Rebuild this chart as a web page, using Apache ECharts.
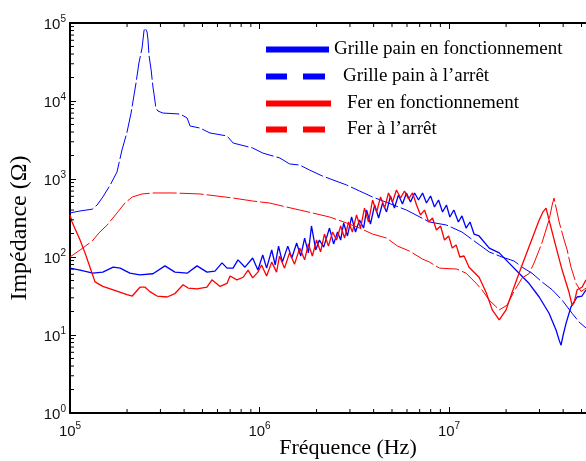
<!DOCTYPE html>
<html><head><meta charset="utf-8">
<script src="https://cdn.jsdelivr.net/npm/echarts@6/dist/echarts.min.js"></script>
<style>html,body{margin:0;padding:0;background:#fff}#c{width:586px;height:461px}</style>
</head><body><div id="c"></div>
<script>
// ---- data (frequency in Hz, impedance in ohm) ----
const seriesNames = ['Grille pain en fonctionnement', 'Grille pain à l’arrêt', 'Fer en fonctionnement', 'Fer à l’arrêt'];

const freqGpFonct = [1e5,1.13e5,1.32e5,1.49e5,1.69e5,1.84e5,2.07e5,2.34e5,2.74e5,3.17e5,3.58e5,4.15e5,4.68e5,5.28e5,5.82e5,6.34e5,6.74e5,7.25e5,7.7e5,8.38e5,9.2e5,
 9.8e5,1.04e6,1.09e6,1.16e6,1.21e6,1.26e6,1.32e6,1.41e6,1.48e6,1.57e6,1.65e6,1.73e6,1.81e6,1.88e6,1.98e6,2.07e6,2.18e6,2.34e6,2.46e6,2.58e6,2.68e6,2.78e6,2.91e6,3.06e6,3.21e6,3.37e6,3.54e6,3.67e6,3.85e6,4.05e6,4.25e6,4.46e6,4.68e6,4.91e6,5.15e6,5.41e6,5.68e6,5.96e6,6.26e6,6.58e6,6.9e6,7.25e6,7.6e6,7.99e6,8.38e6,8.8e6,9.24e6,9.69e6,
 1.01e7,1.06e7,1.12e7,1.17e7,1.23e7,1.29e7,1.355e7,1.44e7,1.63e7,1.84e7,2.07e7,2.34e7,2.64e7,2.99e7,3.37e7,3.67e7,3.81e7,3.9e7,4.0e7,4.15e7,4.4e7,4.74e7,5.03e7,5.28e7];
const zGpFonct = [72,68,62,64,74,72,62,59,61,77,64,62,77,64,66,84,72,72,92,74,97,
 68,106,72,123,79,138,86,138,97,151,103,175,113,250,123,165,134,235,147,209,165,273,186,326,209,298,235,400,265,464,316,492,378,605,424,624,478,662,507,662,538,662,492,605,437,538,378,464,
 326,400,281,336,235,281,197,186,130,113,84,62,46,30.7,19,11.6,8.6,7.4,10,14.3,23,30.7,31.6,38];

const freqGpArret = [1e5,1.13e5,1.31e5,1.39e5,1.49e5,1.63e5,1.77e5,1.88e5,2.0e5,2.1e5,2.23e5,2.31e5,2.4e5,2.46e5,2.49e5,2.55e5,2.58e5,2.61e5,2.68e5,2.74e5,2.78e5,2.84e5,2.91e5,3.09e5,3.81e5,4.15e5,4.3e5,4.85e5,5.48e5,6.74e5,7.26e5,9.2e5,
 1.04e6,1.28e6,1.44e6,1.63e6,1.84e6,2.15e6,2.88e6,3.37e6,3.95e6,5.96e6,7.89e6,9.69e6,1.17e7,1.63e7,1.9e7,2.2e7,2.43e7,2.74e7,3.09e7,3.5e7,3.95e7,4.46e7,4.85e7,5.28e7];
const zGpArret = [367,389,410,464,588,838,1230,2350,4010,7010,17000,30700,47800,81300,86300,76700,60500,38900,24900,15100,11900,8130,7440,7010,6810,6050,4780,4500,3890,3560,2890,2500,
 2150,1860,1560,1510,1300,1090,838,702,588,400,281,257,209,116,100,89,74,62,48,38,28,19,14.7,12.3];

const freqFerFonct = [1e5,1.025e5,1.13e5,1.2e5,1.275e5,1.355e5,1.49e5,1.69e5,2.0e5,2.13e5,2.34e5,2.49e5,2.64e5,2.88e5,3.25e5,3.58e5,3.95e5,4.2e5,4.68e5,5.28e5,5.61e5,6.19e5,6.74e5,6.99e5,7.6e5,8.2e5,8.7e5,9.2e5,9.8e5,
 1.025e6,1.09e6,1.16e6,1.23e6,1.275e6,1.355e6,1.44e6,1.53e6,1.63e6,1.73e6,1.81e6,1.9e6,2.0e6,2.1e6,2.2e6,2.31e6,2.43e6,2.55e6,2.68e6,2.81e6,2.95e6,3.09e6,3.25e6,3.41e6,3.58e6,3.76e6,3.95e6,4.15e6,4.35e6,4.57e6,4.79e6,5.03e6,5.28e6,5.55e6,5.82e6,6.11e6,6.42e6,
 6.74e6,7.07e6,7.42e6,7.8e6,8.18e6,8.58e6,9.02e6,9.46e6,9.95e6,1.04e7,1.09e7,1.14e7,1.2e7,1.275e7,1.44e7,1.57e7,1.69e7,1.84e7,2.0e7,2.15e7,2.34e7,2.64e7,2.99e7,3.13e7,3.25e7,3.37e7,3.67e7,3.95e7,4.3e7,4.46e7,4.57e7,4.74e7,5.03e7,5.28e7];
const zFerFonct = [346,281,165,113,74,48,42,38,33,31.6,41,41,36,31.6,30.7,34,44,40,39,41,51,42,46,57,51,55,68,54,64,
 79,57,86,64,103,72,113,81,130,92,147,103,165,116,197,138,209,165,250,175,281,209,346,235,424,281,538,378,588,424,662,507,722,570,702,554,662,
 464,346,400,281,316,222,250,165,186,130,143,100,103,74,55,35,21,15.6,21,35,62,134,298,378,424,298,134,68,35,24,26,38,41,51];

const freqFerArret = [1e5,1.13e5,1.31e5,1.42e5,1.57e5,1.77e5,1.95e5,2.13e5,2.4e5,2.74e5,3.5e5,4.85e5,5.96e5,7.25e5,9.2e5,1.13e6,1.39e6,1.63e6,1.9e6,2.34e6,2.88e6,3.37e6,3.95e6,4.68e6,5.35e6,6.19e6,7.25e6,7.89e6,8.91e6,
 1.1e7,1.23e7,1.39e7,1.49e7,1.63e7,1.84e7,2.02e7,2.2e7,2.43e7,2.64e7,2.81e7,3.09e7,3.37e7,3.5e7,3.58e7,3.81e7,4.05e7,4.2e7,4.4e7,4.68e7,4.97e7,5.28e7];
const zFerArret = [100,123,160,203,257,367,492,588,643,662,662,643,605,570,522,492,437,400,367,326,273,235,197,175,138,119,94,86,72,
 70,62,46,38,28,21,24,36,54,61,84,151,298,464,570,281,165,123,74,46,36,40];

// axis ranges and tick helpers
const xMin = 1e5, xMax = 5.28e7;
const yMin = 1, yMax = 1e5;
const xDecades = [1e5, 1e6, 1e7];
const yDecades = [1, 10, 100, 1000, 10000];
const minorMultipliers = [2, 3, 4, 5, 6, 7, 8, 9];

const zip = (a, b) => a.slice(0, Math.min(a.length, b.length)).map((v, i) => [v, b[i]]);
const xMinor = [];
xDecades.forEach(d => minorMultipliers.forEach(m => { if (m * d <= xMax) xMinor.push([m * d, 10]); }));
const yMinor = [];
yDecades.forEach(d => minorMultipliers.forEach(m => yMinor.push([1e6, m * d])));

const BLUE = '#0000ff', RED = '#ff0000';
const serif = 'Liberation Serif';
const sans = 'Liberation Sans';

const powLabel = v => {
  const e = Math.log10(v);
  const r = Math.round(e);
  if (Math.abs(e - r) > 1e-6) return '';
  return '{b|10}{s|' + r + '}';
};
const richLab = {
  b: { fontFamily: sans, fontSize: 15, color: '#111', verticalAlign: 'bottom', lineHeight: 18 },
  s: { fontFamily: sans, fontSize: 10, color: '#111', verticalAlign: 'top', lineHeight: 10 }
};
const axisLineStyle = { show: true, lineStyle: { color: '#000', width: 2 } };

const chart = echarts.init(document.getElementById('c'), null, { renderer: 'canvas' });

const mkLegend = (name, top, icon, w, padLeft) => ({
  show: true, left: 266, top: top, orient: 'horizontal', padding: 0,
  data: [{ name: name, icon: icon }],
  itemWidth: w, itemHeight: 6, selectedMode: false,
  itemStyle: { borderWidth: 0 },
  textStyle: { fontFamily: serif, fontSize: 19, color: '#000', padding: [0, 0, 0, padLeft] }
});
const dashIcon = 'path://M0,0H21V6H0Z M37,0H59V6H37Z';

const option = {
  animation: false,
  backgroundColor: '#fff',
  grid: { left: 70, right: 0, top: 23, bottom: 48, containLabel: false, outerBoundsMode: 'none' },
  legend: [
    mkLegend(seriesNames[0], 40, 'rect', 63, 0),
    mkLegend(seriesNames[1], 67, dashIcon, 59, 13),
    mkLegend(seriesNames[2], 94, 'rect', 65, 11),
    mkLegend(seriesNames[3], 120, dashIcon, 59, 17)
  ],
  xAxis: [{
    type: 'log', logBase: 10, min: xMin, max: xMax, position: 'bottom',
    axisLine: axisLineStyle,
    axisTick: { show: true, inside: true, length: 6, lineStyle: { color: '#000', width: 1 } },
    axisLabel: { show: true, margin: 8, formatter: powLabel, rich: richLab },
    splitLine: { show: false },
    name: 'Fréquence (Hz)', nameLocation: 'middle', nameGap: 24, nameMoveOverlap: false,
    nameTextStyle: { fontFamily: serif, fontSize: 22, color: '#000', padding: [0, 0, 0, 40] }
  }, {
    type: 'log', logBase: 10, min: xMin, max: xMax, position: 'top',
    axisLine: axisLineStyle,
    axisTick: { show: true, inside: true, length: 6, lineStyle: { color: '#000', width: 1 } },
    axisLabel: { show: false }, splitLine: { show: false }
  }],
  yAxis: [{
    type: 'log', logBase: 10, min: yMin, max: yMax, position: 'left',
    axisLine: axisLineStyle,
    axisTick: { show: true, inside: true, length: 6, lineStyle: { color: '#000', width: 1 } },
    axisLabel: { show: true, margin: 4, formatter: powLabel, rich: richLab },
    splitLine: { show: false },
    name: 'Impédance (Ω)', nameLocation: 'middle', nameGap: 38, nameMoveOverlap: false,
    nameTextStyle: { fontFamily: serif, fontSize: 24, color: '#000', padding: [0, 20, 0, 0] }
  }],
  series: [
    { name: seriesNames[0], type: 'line', data: zip(freqGpFonct, zGpFonct), showSymbol: false, symbol: 'none',
      color: BLUE, lineStyle: { color: BLUE, width: 1.3 }, z: 3 },
    { name: seriesNames[1], type: 'line', data: zip(freqGpArret, zGpArret), showSymbol: false, symbol: 'none',
      color: BLUE, lineStyle: { color: BLUE, width: 1, type: [24, 3] }, z: 3 },
    { name: seriesNames[2], type: 'line', data: zip(freqFerFonct, zFerFonct), showSymbol: false, symbol: 'none',
      color: RED, lineStyle: { color: RED, width: 1.3 }, z: 4 },
    { name: seriesNames[3], type: 'line', data: zip(freqFerArret, zFerArret), showSymbol: false, symbol: 'none',
      color: RED, lineStyle: { color: RED, width: 1, type: [24, 3] }, z: 4 },
    { name: 'xminor', type: 'custom', data: xMinor, silent: true, z: 10,
      renderItem: (params, api) => {
        const v = api.value(0);
        const pb = api.coord([v, yMin]);
        const pt = api.coord([v, yMax]);
        return { type: 'group', children: [
          { type: 'line', shape: { x1: pb[0], y1: pb[1], x2: pb[0], y2: pb[1] - 4 }, style: { stroke: '#000', lineWidth: 1 } },
          { type: 'line', shape: { x1: pt[0], y1: pt[1], x2: pt[0], y2: pt[1] + 4 }, style: { stroke: '#000', lineWidth: 1 } }
        ] };
      } },
    { name: 'yminor', type: 'custom', data: yMinor, silent: true, z: 10,
      renderItem: (params, api) => {
        const v = api.value(1);
        const p = api.coord([xMin, v]);
        return { type: 'line', shape: { x1: p[0], y1: p[1], x2: p[0] + 4, y2: p[1] }, style: { stroke: '#000', lineWidth: 1 } };
      } }
  ]
};
chart.setOption(option);
</script></body></html>
